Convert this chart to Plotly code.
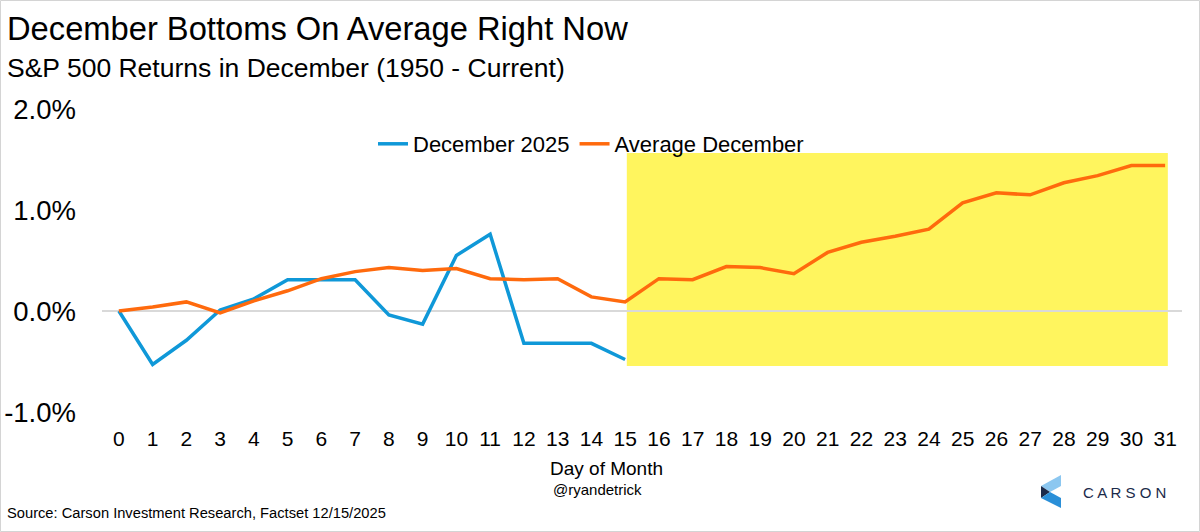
import plotly.graph_objects as go

# ---------------- data ----------------
days = list(range(0, 32))
dec_2025 = [0.00, -0.53, -0.29, 0.01, 0.12, 0.31, 0.31, 0.31, -0.04, -0.13,
            0.55, 0.76, -0.32, -0.32, -0.32, -0.48]
avg_dec = [0.00, 0.04, 0.09, -0.02, 0.10, 0.20, 0.32, 0.39, 0.43, 0.40,
           0.42, 0.32, 0.31, 0.32, 0.14, 0.09, 0.32, 0.31, 0.44, 0.43,
           0.37, 0.58, 0.68, 0.74, 0.81, 1.07, 1.17, 1.15, 1.27, 1.34,
           1.44, 1.44]
y_ticks = [-1.0, 0.0, 1.0, 2.0]
y_tick_labels = ["-1.0%", "0.0%", "1.0%", "2.0%"]

title = "December Bottoms On Average Right Now"
subtitle = "S&P 500 Returns in December (1950 - Current)"
source = "Source: Carson Investment Research, Factset 12/15/2025"

# ---------------- layout geometry ----------------
WIDTH, HEIGHT = 1200, 532
L, R, T, B = 102, 18, 109, 120
PW, PH = WIDTH - L - R, HEIGHT - T - B


def px(x):
    return (x - L) / PW


def py(y):
    return (HEIGHT - B - y) / PH


FONT = "Liberation Sans, Arial, sans-serif"
BLUE = "#0F98D8"
ORANGE = "#FF6A0D"
YELLOW = "#FFF55E"

fig = go.Figure()
fig.add_trace(go.Scatter(x=days[:len(dec_2025)], y=dec_2025, mode="lines",
                         name="December 2025",
                         line=dict(color=BLUE, width=3.5)))
fig.add_trace(go.Scatter(x=days[:len(avg_dec)], y=avg_dec, mode="lines",
                         name="Average December",
                         line=dict(color=ORANGE, width=3.5)))

shapes = [
    dict(type="rect", xref="x", yref="y", x0=15.05, x1=31.08, y0=-0.545, y1=1.565,
         fillcolor=YELLOW, line=dict(width=0), layer="below"),
    dict(type="rect", xref="paper", yref="paper",
         x0=px(0.5), x1=px(1199.5), y0=py(531.5), y1=py(0.5),
         line=dict(color="#d4d4d4", width=1), fillcolor="rgba(0,0,0,0)"),
]


def path(points):
    s = "M" + " L".join(f"{px(a):.5f},{py(b):.5f}" for a, b in points) + " Z"
    return s


shapes += [
    dict(type="path", xref="paper", yref="paper",
         path=path([(1041, 486), (1061, 475), (1061, 486), (1050, 492)]),
         fillcolor="#8CC7F0", line=dict(width=0)),
    dict(type="path", xref="paper", yref="paper",
         path=path([(1041, 486), (1050, 492), (1041, 498)]),
         fillcolor="#1B2A4A", line=dict(width=0)),
    dict(type="path", xref="paper", yref="paper",
         path=path([(1041, 498), (1050, 492), (1061, 498), (1061, 508)]),
         fillcolor="#2A8FD8", line=dict(width=0)),
]

annotations = [
    dict(text=title, x=px(5), y=py(28), xref="paper", yref="paper",
         xanchor="left", yanchor="middle", showarrow=False,
         font=dict(family=FONT, size=32.7, color="#000000")),
    dict(text=subtitle, x=px(5), y=py(68), xref="paper", yref="paper",
         xanchor="left", yanchor="middle", showarrow=False,
         font=dict(family=FONT, size=26.5, color="#000000")),
    dict(text="Day of Month", x=px(606), y=py(468), xref="paper", yref="paper",
         xanchor="center", yanchor="middle", showarrow=False,
         font=dict(family=FONT, size=19, color="#000000")),
    dict(text="@ryandetrick", x=px(597), y=py(489), xref="paper", yref="paper",
         xanchor="center", yanchor="middle", showarrow=False,
         font=dict(family=FONT, size=15, color="#000000")),
    dict(text=source, x=px(5), y=py(513), xref="paper", yref="paper",
         xanchor="left", yanchor="middle", showarrow=False,
         font=dict(family=FONT, size=14.7, color="#000000")),
    dict(text="C A R S O N", x=px(1124), y=py(492), xref="paper", yref="paper",
         xanchor="center", yanchor="middle", showarrow=False,
         font=dict(family=FONT, size=15, color="#1B2A4A")),
]

fig.update_layout(
    width=WIDTH, height=HEIGHT,
    margin=dict(l=L, r=R, t=T, b=B, pad=0, autoexpand=False),
    paper_bgcolor="white", plot_bgcolor="white",
    font=dict(family=FONT, color="#000000"),
    showlegend=True,
    legend=dict(orientation="h", x=px(373), y=py(144), xanchor="left",
                yanchor="middle", font=dict(family=FONT, size=22, color="#000000"),
                itemwidth=30, tracegroupgap=0, bgcolor="rgba(0,0,0,0)"),
    shapes=shapes,
    annotations=annotations,
    xaxis=dict(range=[-0.5, 31.5], tickmode="array", tickvals=days,
               ticktext=[str(d) for d in days], showgrid=False, zeroline=False,
               showline=False, ticks="", ticklabelstandoff=12, automargin=False,
               tickfont=dict(family=FONT, size=21, color="#000000"),
               fixedrange=True),
    yaxis=dict(range=[-1.0, 2.0], tickmode="array", tickvals=y_ticks,
               ticktext=y_tick_labels, showgrid=False, zeroline=True,
               zerolinecolor="#d9d9d9", zerolinewidth=1.5, showline=False,
               ticks="", ticklabelstandoff=25, automargin=False,
               tickfont=dict(family=FONT, size=27.5, color="#000000"),
               fixedrange=True),
)

fig.write_html("out.html", config={"displayModeBar": False},
               post_script="document.body.style.margin='0px';")
